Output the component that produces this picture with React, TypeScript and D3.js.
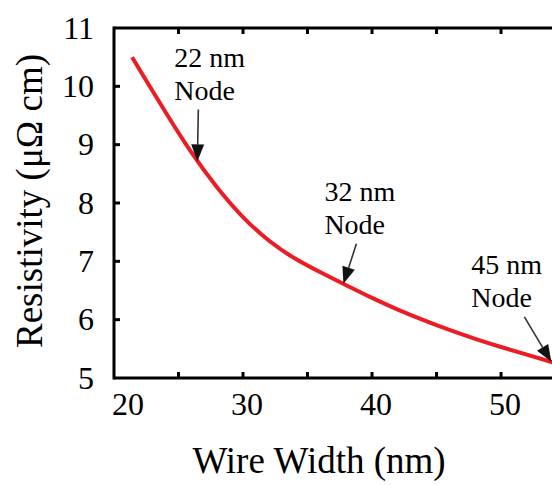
import React from "react";
import * as d3 from "d3";

const widths = [21.4, 22, 24, 26, 28, 30, 32, 34, 36, 38, 40, 42, 44, 46, 48, 50, 52, 54];
const resistivity = [10.5, 10.28, 9.55, 8.85, 8.25, 7.74, 7.34, 7.04, 6.81, 6.59, 6.37, 6.17, 5.99, 5.82, 5.67, 5.53, 5.4, 5.27];

const xTickLabels = [20, 30, 40, 50];
const xMinorTicks = [20, 25, 30, 35, 40, 45, 50];
const yTickLabels = [5, 6, 7, 8, 9, 10, 11];

const nodeNames = ["22 nm", "32 nm", "45 nm"];
const nodeWidths = [26.46, 37.78, 53.9];

const W = 552;
const H = 485;
const FONT = "'Liberation Serif', 'Times New Roman', serif";

export default function App() {
  const x = d3.scaleLinear().domain([20, 53.95]).range([114, 552]);
  const y = d3.scaleLinear().domain([5, 11]).range([378, 28]);

  const pts = widths.map((w, i) => [w, resistivity[i]] as [number, number]);
  const line = d3
    .line<[number, number]>()
    .x((d) => x(d[0]))
    .y((d) => y(d[1]))
    .curve(d3.curveBasis);

  const interp = (w: number) => {
    for (let i = 0; i < widths.length - 1; i++) {
      if (w >= widths[i] && w <= widths[i + 1]) {
        const t = (w - widths[i]) / (widths[i + 1] - widths[i]);
        return resistivity[i] + t * (resistivity[i + 1] - resistivity[i]);
      }
    }
    return resistivity[resistivity.length - 1];
  };

  // layout offsets for annotations (tail offset from tip, text offset from tip)
  const tails = [
    [1, -52],
    [13, -40],
    [-27, -45],
  ];
  const textOff = [
    [-23, -94],
    [-19, -83],
    [-80, -88],
  ];

  const arrow = (tx: number, ty: number, sx: number, sy: number, key: string) => {
    const dx = tx - sx;
    const dy = ty - sy;
    const len = Math.sqrt(dx * dx + dy * dy);
    const ux = dx / len;
    const uy = dy / len;
    const hl = 17;
    const hw = 6.5;
    const bx = tx - ux * hl;
    const by = ty - uy * hl;
    const px = -uy;
    const py = ux;
    const poly = `${tx},${ty} ${bx + px * hw},${by + py * hw} ${bx - px * hw},${by - py * hw}`;
    return (
      <g key={key}>
        <line x1={sx} y1={sy} x2={bx} y2={by} stroke="#333" strokeWidth={1.6} />
        <polygon points={poly} fill="#111" />
      </g>
    );
  };

  return (
    <svg
      width={W}
      height={H}
      style={{ position: "absolute", left: 0, top: 0, background: "#fff" }}
      fontFamily={FONT}
    >
      <rect x={0} y={0} width={W} height={H} fill="#fff" />
      {/* curve */}
      <path d={line(pts) || ""} fill="none" stroke="#ec1c24" strokeWidth={4} />

      {/* frame */}
      <line x1={x(20)} y1={y(11)} x2={W + 5} y2={y(11)} stroke="#000" strokeWidth={3} />
      <line x1={x(20)} y1={y(5)} x2={W + 5} y2={y(5)} stroke="#000" strokeWidth={3} />
      <line x1={x(20)} y1={y(11) - 1.5} x2={x(20)} y2={y(5) + 1.5} stroke="#000" strokeWidth={3} />

      {/* minor ticks */}
      {xMinorTicks.slice(1).map((v) => (
        <g key={"xt" + v}>
          <line x1={x(v)} x2={x(v)} y1={y(5)} y2={y(5) - 6} stroke="#000" strokeWidth={3} />
          <line x1={x(v)} x2={x(v)} y1={y(11)} y2={y(11) + 6} stroke="#000" strokeWidth={3} />
        </g>
      ))}
      {yTickLabels.slice(1, -1).map((v) => (
        <line key={"yt" + v} x1={x(20)} x2={x(20) + 6} y1={y(v)} y2={y(v)} stroke="#000" strokeWidth={3} />
      ))}

      {/* x tick labels */}
      {xTickLabels.map((v, i) => (
        <text
          key={"xl" + v}
          x={i === 0 ? x(v) - 2 : x(v) + 4}
          y={415}
          fontSize={32}
          textAnchor={i === 0 ? "start" : "middle"}
          fill="#000"
        >
          {v}
        </text>
      ))}
      {/* y tick labels */}
      {yTickLabels.map((v) => (
        <text key={"yl" + v} x={94} y={y(v)} dy="0.33em" fontSize={32} textAnchor="end" fill="#000">
          {v}
        </text>
      ))}

      {/* axis titles */}
      <text x={319} y={473} fontSize={37} textAnchor="middle" fill="#000">
        Wire Width (nm)
      </text>
      <text
        transform={`translate(42, 201) rotate(-90)`}
        fontSize={37}
        textAnchor="middle"
        fill="#000"
      >
        Resistivity (μΩ cm)
      </text>

      {/* annotations */}
      {nodeNames.map((name, i) => {
        const tx = x(nodeWidths[i]);
        const ty = y(interp(nodeWidths[i]));
        const sx = tx + tails[i][0];
        const sy = ty + tails[i][1];
        const lx = tx + textOff[i][0];
        const ly = ty + textOff[i][1];
        return (
          <g key={name}>
            <text x={lx} y={ly} fontSize={28} fill="#000">
              {name}
            </text>
            <text x={lx} y={ly + 33} fontSize={28} fill="#000">
              Node
            </text>
            {arrow(tx, ty, sx, sy, "a" + i)}
          </g>
        );
      })}
    </svg>
  );
}
